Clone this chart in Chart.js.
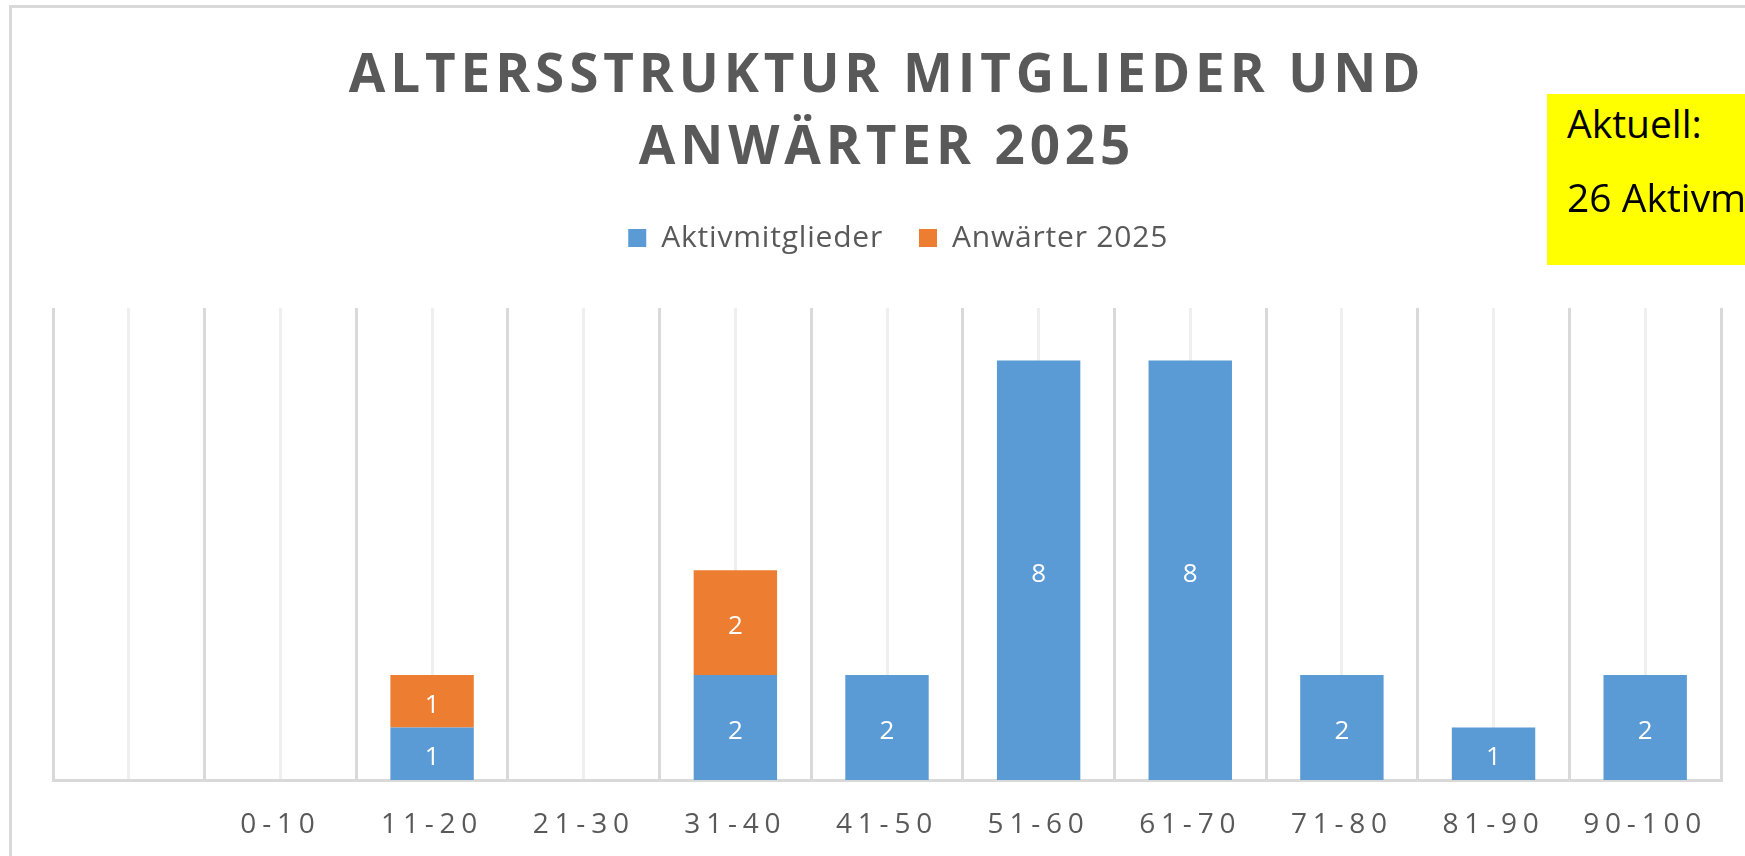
<!DOCTYPE html>
<html><head><meta charset="utf-8">
<script src="https://cdn.jsdelivr.net/npm/chart.js@4.4.1/dist/chart.umd.min.js"></script>
<style>
html,body{margin:0;padding:0;width:1745px;height:856px;overflow:hidden;background:#fff;}
#frame{position:absolute;left:9px;top:5px;width:1800px;height:900px;border-top:3px solid #d9d9d9;border-left:3px solid #d9d9d9;box-sizing:border-box;}
#wrap{position:absolute;left:11px;top:0;width:1750px;height:856px;}
#note{position:absolute;left:1547px;top:94px;width:300px;height:171px;background:#ffff00;font-family:'Open Sans',sans-serif;font-size:39px;color:#000;white-space:nowrap;}
#note div{position:absolute;left:20px;line-height:53px;}
</style></head>
<body>
<div id="frame"></div>
<div id="wrap"><canvas id="c"></canvas></div>
<div id="note"><div style="top:2px">Aktuell:</div><div style="top:76px">26 Aktivmitglieder</div></div>
<script>
const categories = ['', '0-10', '11-20', '21-30', '31-40', '41-50', '51-60', '61-70', '71-80', '81-90', '90-100'];
const aktivmitglieder = [null, null, 1, null, 2, 2, 8, 8, 2, 1, 2];
const anwaerter2025 = [null, null, 1, null, 2, null, null, null, null, null, null];
const seriesNames = ['Aktivmitglieder', 'Anwärter 2025'];
const titleLines = ['ALTERSSTRUKTUR MITGLIEDER UND', 'ANWÄRTER 2025'];

const spacingPlugin = {
  id: 'spacing',
  beforeDraw(chart) {
    if (chart.$wrapped) return;
    chart.$wrapped = true;
    const wrap = (obj, name, sp) => {
      const orig = obj[name];
      obj[name] = function (...a) {
        const ctx = chart.ctx; ctx.save(); ctx.letterSpacing = sp;
        orig.apply(this, a); ctx.restore();
      };
    };
    wrap(chart.titleBlock, 'draw', '4.9px');
    wrap(chart.legend, 'draw', '0.8px');
    wrap(chart.scales.x, 'drawLabels', '5.8px');
  }
};

const labelPlugin = {
  id: 'barLabels',
  afterDatasetsDraw(chart) {
    const ctx = chart.ctx;
    ctx.save();
    ctx.font = '26px "Open Sans"';
    ctx.fillStyle = '#ffffff';
    ctx.textAlign = 'center';
    ctx.textBaseline = 'middle';
    chart.data.datasets.forEach((ds, i) => {
      const meta = chart.getDatasetMeta(i);
      meta.data.forEach((el, j) => {
        const v = ds.data[j];
        if (!v) return;
        ctx.fillText(String(v), el.x, (el.y + el.base) / 2 + 4);
      });
    });
    ctx.restore();
  }
};

new Chart(document.getElementById('c'), {
  type: 'bar',
  data: {
    labels: categories,
    datasets: [
      { label: seriesNames[0], data: aktivmitglieder, backgroundColor: '#5B9BD5', borderWidth: 0, categoryPercentage: 1, barPercentage: 0.55 },
      { label: seriesNames[1], data: anwaerter2025, backgroundColor: '#ED7D31', borderWidth: 0, categoryPercentage: 1, barPercentage: 0.55 }
    ]
  },
  options: {
    responsive: true,
    maintainAspectRatio: false,
    animation: false,
    layout: { padding: { top: 0, bottom: -13.6, left: 42, right: 40 } },
    plugins: {
      title: {
        display: true, text: titleLines, color: '#595959',
        font: { family: 'Open Sans', size: 53, weight: 'bold', lineHeight: 72 / 53 },
        padding: { top: 41, bottom: 2 }
      },
      legend: {
        display: true, position: 'top',
        labels: { boxWidth: 18, boxHeight: 18, color: '#595959', padding: 36, font: { family: 'Open Sans', size: 30 } }
      },
      tooltip: { enabled: false }
    },
    scales: {
      x: {
        type: 'category', position: 'bottom', stacked: true, offset: true,
        grid: { offset: true, color: '#d9d9d9', lineWidth: 3, drawTicks: false },
        border: { display: true, color: '#d9d9d9', width: 3 },
        ticks: { color: '#595959', padding: 28, font: { family: 'Open Sans', size: 28 }, maxRotation: 0, autoSkip: false }
      },
      xTop: {
        type: 'category', position: 'top', offset: true,
        grid: { offset: false, color: '#efefef', lineWidth: 3, drawTicks: true, tickLength: 45, tickColor: 'rgba(0,0,0,0)' },
        border: { display: false },
        ticks: { display: false }
      },
      y: { display: false, stacked: true, min: 0, max: 9 }
    }
  },
  plugins: [spacingPlugin, labelPlugin]
});
</script>
</body></html>
